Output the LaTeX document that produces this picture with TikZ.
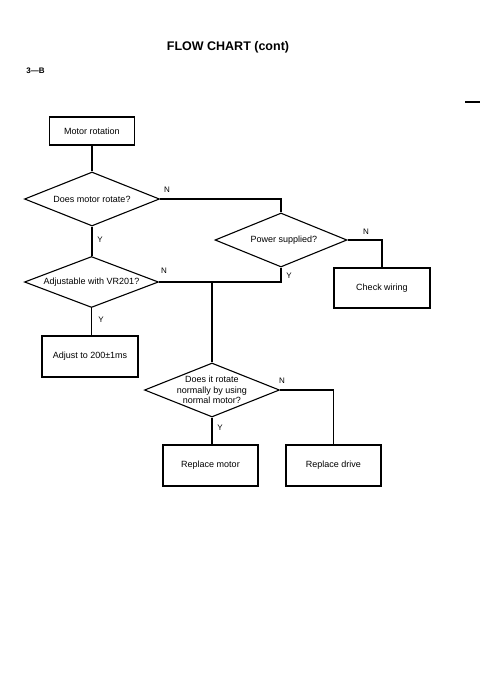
\documentclass[tikz,border=0pt]{standalone}
\usepackage{fontspec}
\setmainfont{Liberation Sans}
\usetikzlibrary{shapes.geometric}
\tikzset{
  boxnode/.style={draw, line width=1.2pt, rectangle, inner sep=0pt, font=\fontsize{9}{10.6}\selectfont},
  dia/.style={draw, line width=1.1pt, diamond, inner sep=0pt},
  diatext/.style={font=\fontsize{9}{10.6}\selectfont, align=center, inner sep=0pt},
  conn/.style={line width=1.1pt},
  yn/.style={font=\fontsize{8}{9}\selectfont, inner sep=0pt}
}
\begin{document}
\begin{tikzpicture}[x=1pt, y=-1pt]
\useasboundingbox[fill=white] (0,0) rectangle (500,685);
% header
\node[font=\fontsize{12.5}{14}\selectfont\bfseries] (title) at (228,47) {FLOW CHART (cont)};
\node[font=\fontsize{8}{9}\selectfont\bfseries] (pg) at (35.5,71) {3—B};
\draw[line width=1.3pt] (465,102) -- (480,102);
% nodes
\node[boxnode, minimum width=85pt, minimum height=28pt] (mr) at (92,131) {Motor rotation};
\node[dia, minimum width=135pt, minimum height=54pt,
      label={[diatext]center:Does motor rotate?}] (d1) at (92,199) {};
\node[dia, minimum width=132pt, minimum height=54pt,
      label={[diatext, xshift=3pt]center:Power supplied?}] (d2) at (281,240) {};
\node[boxnode, minimum width=96pt, minimum height=40pt] (cw) at (382,288) {Check wiring};
\node[dia, minimum width=134pt, minimum height=51pt,
      label={[diatext]center:Adjustable with VR201?}] (d3) at (91.5,282) {};
\node[boxnode, minimum width=96pt, minimum height=41pt] (adj) at (90,356.5) {Adjust to 200±1ms};
\node[dia, minimum width=135pt, minimum height=54pt,
      label={[diatext]center:Does it rotate\\normally by using\\normal motor?}] (d4) at (212,390) {};
\node[boxnode, minimum width=95pt, minimum height=41pt] (rm) at (210.5,465.5) {Replace motor};
\node[boxnode, minimum width=95pt, minimum height=41pt] (rd) at (333.5,465.5) {Replace drive};
\coordinate (j1) at (d4.north |- d3.east);
% connectors
\draw[conn] (mr.south) -- (d1.north);
\draw[conn] (d1.east) -| (d2.north);
\draw[conn] (d1.south) -- (d1.south |- d3.north);
\draw[conn] (d2.east) -| (cw.north);
\draw[conn] (d2.south) |- (d3.east);
\draw[conn] (j1) -- (d4.north);
\draw[conn] (d3.south) -- (d3.south |- adj.north);
\draw[conn] (d4.east) -| (rd.north);
\draw[conn] (d4.south) -- (d4.south |- rm.north);
% Y / N labels
\node[yn] (n1) at (167,190) {N};
\node[yn] (y1) at (100,240) {Y};
\node[yn] (n2) at (366,232) {N};
\node[yn] (y2) at (289,276) {Y};
\node[yn] (n3) at (164,271) {N};
\node[yn] (y3) at (101,320) {Y};
\node[yn] (n4) at (282,381) {N};
\node[yn] (y4) at (220,428) {Y};
\end{tikzpicture}
\end{document}
